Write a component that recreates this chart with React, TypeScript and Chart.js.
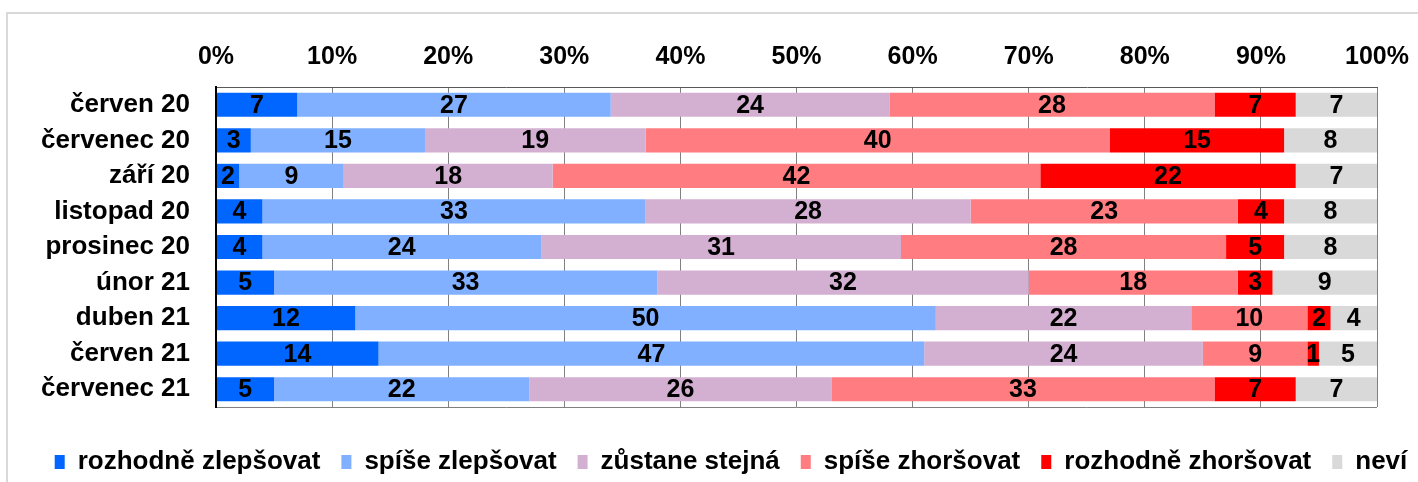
import React, { useEffect, useRef } from "react";
import { Chart, registerables } from "chart.js";

Chart.register(...registerables);

const categories = [
  "červen 20",
  "červenec 20",
  "září 20",
  "listopad 20",
  "prosinec 20",
  "únor 21",
  "duben 21",
  "červen 21",
  "červenec 21",
];

const seriesNames = [
  "rozhodně zlepšovat",
  "spíše zlepšovat",
  "zůstane stejná",
  "spíše zhoršovat",
  "rozhodně zhoršovat",
  "neví",
];

const rozhodneZlepsovat = [7, 3, 2, 4, 4, 5, 12, 14, 5];
const spiseZlepsovat = [27, 15, 9, 33, 24, 33, 50, 47, 22];
const zustaneStejna = [24, 19, 18, 28, 31, 32, 22, 24, 26];
const spiseZhorsovat = [28, 40, 42, 23, 28, 18, 10, 9, 33];
const rozhodneZhorsovat = [7, 15, 22, 4, 5, 3, 2, 1, 7];
const nevi = [7, 8, 7, 8, 8, 9, 4, 5, 7];

const seriesValues = [
  rozhodneZlepsovat,
  spiseZlepsovat,
  zustaneStejna,
  spiseZhorsovat,
  rozhodneZhorsovat,
  nevi,
];

const seriesColors = ["#0066FF", "#80B0FF", "#D3AFD2", "#FF7C80", "#FF0000", "#D9D9D9"];

const tickValues = [0, 10, 20, 30, 40, 50, 60, 70, 80, 90, 100];

const FONT = "'Liberation Sans', Arial, Helvetica, sans-serif";

const labelPlugin = {
  id: "segmentLabels",
  afterDatasetsDraw(chart: any) {
    const ctx = chart.ctx;
    ctx.save();
    ctx.font = `bold 25px ${FONT}`;
    ctx.fillStyle = "#000";
    ctx.textAlign = "center";
    ctx.textBaseline = "middle";
    chart.data.datasets.forEach((ds: any, di: number) => {
      const meta = chart.getDatasetMeta(di);
      meta.data.forEach((bar: any, i: number) => {
        const v = ds.data[i];
        if (v === null || v === undefined || v === 0) return;
        const cx = (bar.x + bar.base) / 2;
        ctx.fillText(String(v), cx, bar.y + 1);
      });
    });
    ctx.restore();
  },
};

const framePlugin = {
  id: "frames",
  beforeDraw(chart: any) {
    const ctx = chart.ctx;
    ctx.save();
    ctx.strokeStyle = "#D9D9D9";
    ctx.lineWidth = 2;
    ctx.beginPath();
    ctx.moveTo(7, chart.height + 10);
    ctx.lineTo(7, 13);
    ctx.lineTo(chart.width + 10, 13);
    ctx.stroke();
    ctx.restore();
  },
  afterDraw(chart: any) {
    const { left, right, bottom } = chart.chartArea;
    const ctx = chart.ctx;
    ctx.save();
    ctx.strokeStyle = "#808080";
    ctx.lineWidth = 1;
    ctx.beginPath();
    ctx.moveTo(left, Math.round(bottom) + 0.5);
    ctx.lineTo(right, Math.round(bottom) + 0.5);
    ctx.stroke();
    ctx.strokeStyle = "#000";
    ctx.lineWidth = 2;
    ctx.beginPath();
    ctx.moveTo(left, chart.chartArea.top);
    ctx.lineTo(left, bottom + 1);
    ctx.stroke();
    ctx.restore();
  },
};

export default function App() {
  const ref = useRef<HTMLCanvasElement | null>(null);

  useEffect(() => {
    if (!ref.current) return;
    const chart = new Chart(ref.current, {
      type: "bar",
      data: {
        labels: categories,
        datasets: seriesValues.map((vals, i) => ({
          label: seriesNames[i],
          data: vals,
          backgroundColor: seriesColors[i],
          borderWidth: 0,
          barPercentage: 0.68,
          categoryPercentage: 1,
        })),
      },
      options: {
        indexAxis: "y",
        responsive: false,
        animation: false,
        layout: { autoPadding: false, padding: { left: 23, right: -21, top: 0, bottom: -3 } },
        plugins: {
          tooltip: { enabled: false },
          legend: {
            position: "bottom",
            align: "center",
            title: {
              display: true,
              text: " ",
              font: { size: 10, lineHeight: 1 },
              padding: { top: 5.5, bottom: 5.5 },
            },
            labels: {
              boxWidth: 10,
              boxHeight: 14,
              padding: 21,
              color: "#000",
              font: { family: FONT, size: 26, weight: "bold" },
            },
          },
        },
        scales: {
          x: {
            position: "top",
            stacked: true,
            min: 0,
            max: 100,
            afterBuildTicks: (scale: any) => {
              scale.ticks = tickValues.map((v) => ({ value: v }));
            },
            ticks: {
              callback: (v: any) => `${v}%`,
              color: "#000",
              font: { family: FONT, size: 25, weight: "bold" },
              padding: 15,
              maxRotation: 0,
              autoSkip: false,
            },
            grid: { color: "#808080", lineWidth: 1, drawTicks: false },
            border: { color: "#595959", width: 1 },
            afterFit: (scale: any) => {
              scale.height = 87;
              scale.paddingLeft = 0;
              scale.paddingRight = 0;
            },
          },
          y: {
            stacked: true,
            ticks: {
              color: "#000",
              font: { family: FONT, size: 26, weight: "bold" },
              padding: 26,
              autoSkip: false,
            },
            grid: { display: false, drawTicks: false },
            border: { color: "#000", width: 2 },
            afterFit: (scale: any) => {
              scale.width = 193;
            },
          },
          y2: {
            type: "linear",
            axis: "y",
            position: "right",
            display: true,
            min: 0,
            max: 1,
            ticks: { display: false },
            grid: { display: false, drawTicks: false },
            border: { display: false },
            afterFit: (scale: any) => {
              scale.width = 62;
            },
          },
        },
      },
      plugins: [labelPlugin, framePlugin],
    } as any);
    return () => chart.destroy();
  }, []);

  return (
    <div style={{ position: "fixed", left: 0, top: 0, width: 1418, height: 482, background: "#fff" }}>
      <canvas ref={ref} width={1418} height={482} style={{ display: "block" }} />
    </div>
  );
}
